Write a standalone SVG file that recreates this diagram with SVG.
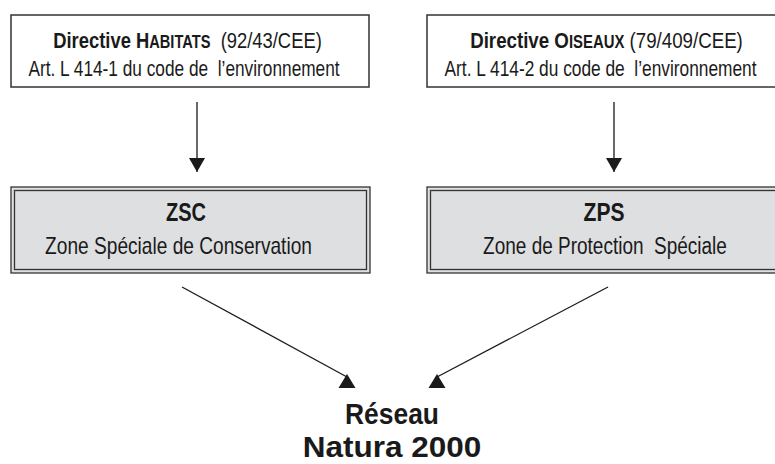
<svg xmlns="http://www.w3.org/2000/svg" width="775" height="464" viewBox="0 0 775 464">
  <style>
    text { font-family: "Liberation Sans", Arial, sans-serif; fill: #1a1a1a; text-anchor: middle; }
    .b { font-weight: bold; }
    .box { fill: #ffffff; stroke: #333333; stroke-width: 1.5; }
    .zone { fill: #dedfe1; stroke: #333333; stroke-width: 1.3; }
    .conn { stroke: #1a1a1a; stroke-width: 1.3; fill: none; }
    .head { fill: #1a1a1a; stroke: none; }
    .t1 { font-size: 22px; }
    .t2 { font-size: 22px; }
    .sc { font-size: 17.5px; }
    .zt { font-size: 25px; }
    .zs { font-size: 23px; }
    .res { font-size: 30px; }
  </style>
  <defs>
    <marker id="arrowDown" viewBox="0 0 14 16" refX="14" refY="8" markerWidth="14" markerHeight="16" markerUnits="userSpaceOnUse" orient="auto">
      <path d="M0,0 L14,8 L0,16 Z" class="head"/>
    </marker>
  </defs>

  <g id="node-habitats">
    <rect class="box" x="11" y="15" width="358" height="72"/>
    <text class="t1" transform="translate(187.5,48) scale(0.836,1)" xml:space="preserve"><tspan class="b">Directive H</tspan><tspan class="b sc">ABITATS</tspan>  (92/43/CEE)</text>
    <text class="t2" transform="translate(184,76) scale(0.785,1)" xml:space="preserve">Art. L 414-1 du code de  l’environnement</text>
  </g>

  <g id="node-oiseaux">
    <rect class="box" x="427" y="15" width="358" height="72"/>
    <text class="t1" transform="translate(606.5,48) scale(0.851,1)" xml:space="preserve"><tspan class="b">Directive O</tspan><tspan class="b sc">ISEAUX</tspan> (79/409/CEE)</text>
    <text class="t2" transform="translate(600.5,76) scale(0.787,1)" xml:space="preserve">Art. L 414-2 du code de  l’environnement</text>
  </g>

  <g id="node-zsc">
    <rect class="zone" x="11" y="187" width="359" height="86"/>
    <rect class="zone" x="14.5" y="190.5" width="352" height="79"/>
    <text class="zt b" transform="translate(186,221) scale(0.8,1)">ZSC</text>
    <text class="zs" transform="translate(178.5,254) scale(0.832,1)">Zone Spéciale de Conservation</text>
  </g>

  <g id="node-zps">
    <rect class="zone" x="427" y="187" width="359" height="86"/>
    <rect class="zone" x="430.5" y="190.5" width="352" height="79"/>
    <text class="zt b" transform="translate(604,221) scale(0.843,1)">ZPS</text>
    <text class="zs" transform="translate(605,254) scale(0.826,1)" xml:space="preserve">Zone de Protection  Spéciale</text>
  </g>

  <g id="node-natura">
    <text class="res b" transform="translate(392,424) scale(0.881,1)">Réseau</text>
    <text class="res b" transform="translate(392,457) scale(1.05,1)">Natura 2000</text>
  </g>

  <g id="connectors">
    <line class="conn" x1="197" y1="102" x2="197" y2="172" marker-end="url(#arrowDown)"/>
    <line class="conn" x1="614" y1="102" x2="614" y2="172" marker-end="url(#arrowDown)"/>
    <line class="conn" x1="182" y1="287" x2="347" y2="377"/>
    <polygon class="head" points="347,374 338.5,388 355.5,388"/>
    <line class="conn" x1="608" y1="287" x2="437" y2="377"/>
    <polygon class="head" points="437,374 428.5,388 445.5,388"/>
  </g>
</svg>
